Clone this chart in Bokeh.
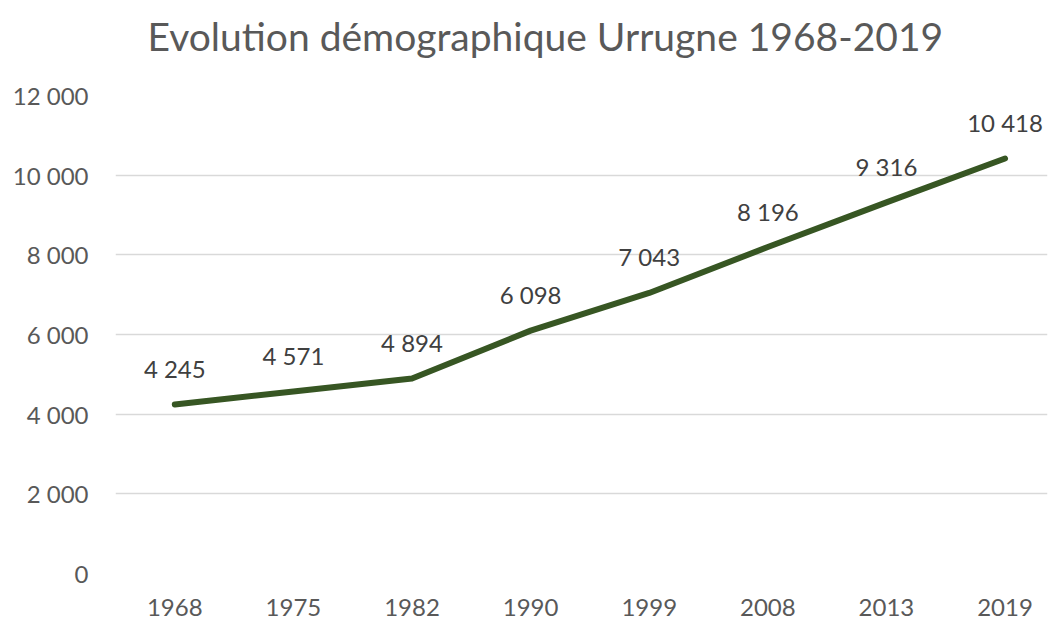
from bokeh.plotting import figure
from bokeh.models import Range1d, FixedTicker, Title, ColumnDataSource, LabelSet
from bokeh.core.properties import value
from bokeh.embed import file_html
from bokeh.resources import INLINE

years = ["1968", "1975", "1982", "1990", "1999", "2008", "2013", "2019"]
population = [4245, 4571, 4894, 6098, 7043, 8196, 9316, 10418]
pop_labels = ["4 245", "4 571", "4 894", "6 098", "7 043", "8 196", "9 316", "10 418"]
yticks = [0, 2000, 4000, 6000, 8000, 10000, 12000]
ytick_labels = ["0", "2 000", "4 000", "6 000", "8 000", "10 000", "12 000"]
title_text = "Evolution démographique Urrugne 1968-2019"

FONT = "Lato"
xs = list(range(len(years)))
src = ColumnDataSource(dict(x=xs, y=population, lab=pop_labels))

p = figure(width=1048, height=619, output_backend="svg", toolbar_location=None,
           x_range=Range1d(-0.5, 7.358), y_range=Range1d(0, 12000),
           min_border_left=115, min_border_right=1, min_border_bottom=46, min_border_top=95)
p.title = None
spacer = Title(text=" ", text_font_size="1px", standoff=34, text_color="white")
p.add_layout(spacer, "above")
t = Title(text=title_text, align="left", text_font=FONT, text_font_size="39px",
          text_color="#595959", text_font_style="normal", offset=32, standoff=0)
p.add_layout(t, "above")

p.outline_line_color = None
p.background_fill_color = "white"
p.border_fill_color = "white"

p.xgrid.grid_line_color = None
p.ygrid.grid_line_color = "#d9d9d9"
p.ygrid.grid_line_width = 1.5
p.ygrid.bounds = (-0.5, 7.29)

p.xaxis.ticker = FixedTicker(ticks=xs)
p.xaxis.major_label_overrides = {i: y for i, y in zip(xs, years)}
p.yaxis.ticker = FixedTicker(ticks=yticks)
p.yaxis.major_label_overrides = {v: s for v, s in zip(yticks, ytick_labels)}

for ax in (p.xaxis[0], p.yaxis[0]):
    ax.axis_line_color = None
    ax.major_tick_line_color = None
    ax.minor_tick_line_color = None
    ax.major_tick_out = 0
    ax.major_tick_in = 0
    ax.major_label_text_font = FONT
    ax.major_label_text_font_size = "24px"
    ax.major_label_text_color = "#595959"
p.xaxis.major_label_standoff = 25
p.yaxis.major_label_standoff = 27

p.line("x", "y", source=src, line_color="#375623", line_width=6, line_cap="round", line_join="round")
labels = LabelSet(x="x", y="y", text="lab", source=src, text_font=value(FONT), text_font_size=value("24px"),
                  text_color="#404040", text_align="center", text_baseline="middle", y_offset=36)
p.add_layout(labels)

open("out.html", "w").write(file_html(p, INLINE))
